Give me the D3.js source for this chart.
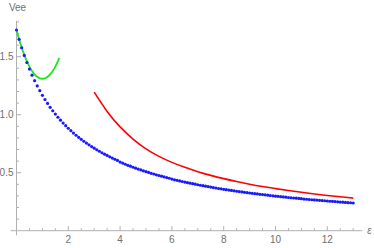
<!DOCTYPE html>
<html><head><meta charset="utf-8">
<script src="https://cdn.jsdelivr.net/npm/d3@7"></script>
<style>html,body{margin:0;padding:0;background:#fff;}svg{display:block;}</style>
</head><body>
<svg id="c" width="374" height="248"></svg>
<script>
// Blue points: eps = 0, 0.1, ..., 13
const blueX0 = 0, blueStep = 0.1;
const blueValues = [
1.730,1.650,1.577,1.511,1.450,1.393,1.341,1.293,1.248,1.207,
1.167,1.131,1.097,1.064,1.034,1.005,0.978,0.953,0.928,0.905,
0.883,0.862,0.842,0.823,0.805,0.788,0.771,0.755,0.740,0.725,
0.711,0.698,0.685,0.672,0.660,0.649,0.637,0.626,0.616,0.606,
0.592,0.583,0.573,0.564,0.556,0.547,0.539,0.531,0.524,0.516,
0.509,0.502,0.495,0.489,0.482,0.476,0.470,0.464,0.458,0.452,
0.445,0.439,0.434,0.429,0.424,0.419,0.414,0.410,0.405,0.401,
0.396,0.392,0.388,0.384,0.380,0.376,0.372,0.368,0.364,0.361,
0.357,0.354,0.350,0.347,0.344,0.340,0.337,0.334,0.331,0.328,
0.325,0.322,0.319,0.317,0.314,0.311,0.309,0.306,0.303,0.301,
0.298,0.296,0.293,0.291,0.289,0.286,0.284,0.282,0.280,0.278,
0.276,0.273,0.271,0.269,0.267,0.265,0.264,0.262,0.260,0.258,
0.256,0.254,0.253,0.251,0.249,0.247,0.246,0.244,0.242,0.241,
0.239];
// Green curve
const greenX = [0,0.1,0.2,0.3,0.4,0.5,0.6,0.7,0.8,0.9,1.0,1.1,1.2,1.3,1.4,1.5,1.6,1.65];
const greenY = [1.730,1.650,1.579,1.516,1.461,1.415,1.377,1.348,1.327,1.314,1.310,1.314,1.327,1.348,1.377,1.415,1.461,1.490];
// Red curve
const redX = [3.0,3.5,4.0,4.5,5.0,5.5,6.0,6.5,7.0,7.5,8.0,8.5,9.0,9.5,10.0,10.5,11.0,11.5,12.0,12.5,13.0];
const redY = [1.195,1.028,0.895,0.790,0.706,0.641,0.589,0.546,0.509,0.477,0.449,0.424,0.401,0.381,0.363,0.346,0.331,0.317,0.304,0.292,0.281];
// Ticks
const xMajor = [2,4,6,8,10,12];
const xMinorStep = 0.5;
const yMajor = [0.5,1.0,1.5];
const yMinorStep = 0.1;
const xLabel = "ε", yLabel = "Vee";

const svg = d3.select("#c");
const x = d3.scaleLinear().domain([0,13]).range([16.5,353.2]);
const y = d3.scaleLinear().domain([0,1]).range([230.7,114.7]);

const axisColor = "#b0b0b0", textColor = "#6f6f6f";
const font = "'Liberation Sans', Arial, sans-serif";

const gAx = svg.append("g");
gAx.append("line").attr("x1",x(-0.22)).attr("x2",x(13.35)).attr("y1",y(0)).attr("y2",y(0))
  .attr("stroke",axisColor).attr("stroke-width",1);
gAx.append("line").attr("x1",x(0)).attr("x2",x(0)).attr("y1",y(-0.04)).attr("y2",y(1.81))
  .attr("stroke",axisColor).attr("stroke-width",1);

const xMin = d3.range(0, 13.0001, xMinorStep).filter(v => !xMajor.some(m=>Math.abs(m-v)<1e-6) && v>0.01);
gAx.selectAll(".xmin").data(xMin).join("line")
  .attr("x1",d=>x(d)).attr("x2",d=>x(d)).attr("y1",y(0)).attr("y2",y(0)-2.5)
  .attr("stroke",axisColor);
gAx.selectAll(".xmaj").data(xMajor).join("line")
  .attr("x1",d=>x(d)).attr("x2",d=>x(d)).attr("y1",y(0)).attr("y2",y(0)-4.5)
  .attr("stroke",axisColor);
gAx.selectAll(".xlab").data(xMajor).join("text")
  .attr("x",d=>x(d)).attr("y",y(0)+12.5).attr("text-anchor","middle")
  .attr("font-family",font).attr("font-size",10).attr("fill",textColor).text(d=>d);

const yMin = d3.range(0.1, 1.8001, yMinorStep).filter(v => !yMajor.some(m=>Math.abs(m-v)<1e-6));
gAx.selectAll(".ymin").data(yMin).join("line")
  .attr("x1",x(0)).attr("x2",x(0)+2.5).attr("y1",d=>y(d)).attr("y2",d=>y(d))
  .attr("stroke",axisColor);
gAx.selectAll(".ymaj").data(yMajor).join("line")
  .attr("x1",x(0)).attr("x2",x(0)+4.5).attr("y1",d=>y(d)).attr("y2",d=>y(d))
  .attr("stroke",axisColor);
gAx.selectAll(".ylab").data(yMajor).join("text")
  .attr("x",x(0)-3).attr("y",d=>y(d)+3.5).attr("text-anchor","end")
  .attr("font-family",font).attr("font-size",10).attr("fill",textColor).text(d=>d.toFixed(1));

svg.append("text").attr("x",x(0)+1).attr("y",11).attr("text-anchor","middle")
  .attr("font-family",font).attr("font-size",10).attr("fill",textColor).text(yLabel);
svg.append("text").attr("x",x(13.35)+5).attr("y",y(0)+3.5).attr("text-anchor","start")
  .attr("font-family",font).attr("font-size",10).attr("font-style","italic").attr("fill",textColor).text(xLabel);

const line = d3.line().x(d=>x(d[0])).y(d=>y(d[1])).curve(d3.curveNatural);
svg.append("path").attr("d", line(greenX.map((v,i)=>[v,greenY[i]])))
  .attr("fill","none").attr("stroke","#1ee61e").attr("stroke-width",1.8);
svg.append("path").attr("d", line(redX.map((v,i)=>[v,redY[i]])))
  .attr("fill","none").attr("stroke","#ff0000").attr("stroke-width",1.6);
svg.selectAll(".pt").data(blueValues).join("circle")
  .attr("cx",(d,i)=>x(blueX0+i*blueStep)).attr("cy",d=>y(d)).attr("r",1.6)
  .attr("fill","#1a1aff");
</script>
</body></html>
